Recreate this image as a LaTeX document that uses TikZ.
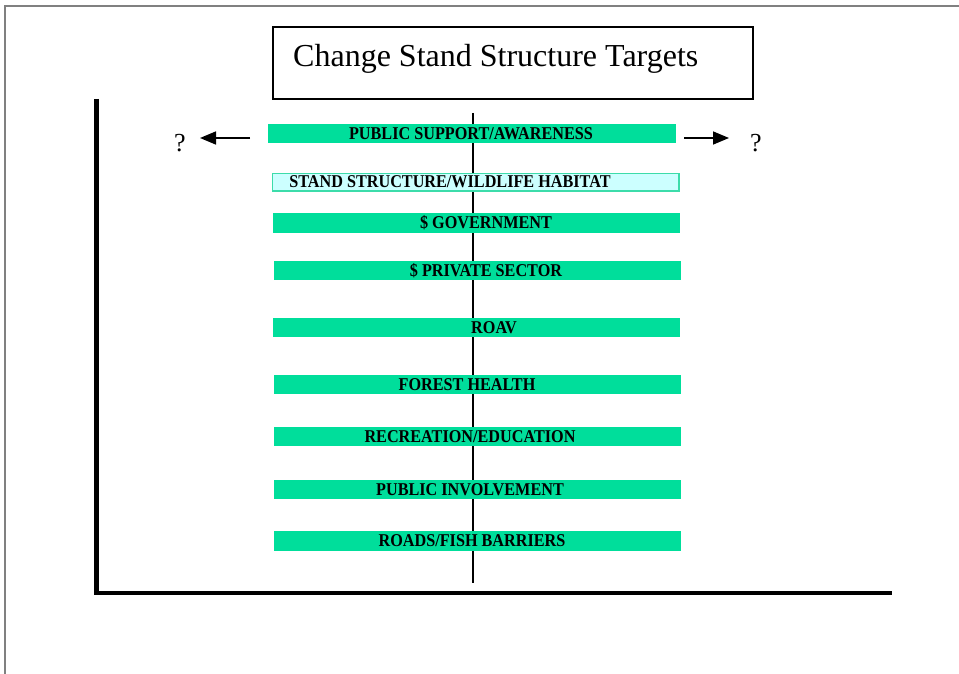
\documentclass[tikz,border=0pt]{standalone}
\usepackage{fontspec}
\setmainfont{Liberation Serif}
\usetikzlibrary{arrows.meta}
\definecolor{bargreen}{RGB}{0,222,155}
\definecolor{barcyan}{RGB}{204,255,255}
\definecolor{barline}{RGB}{60,220,170}
\definecolor{framegray}{RGB}{128,128,128}
\tikzset{
  bar/.style={fill=bargreen, draw=none},
  lightbar/.style={fill=barcyan, draw=barline, line width=1.2pt},
  barlabel/.style={font=\bfseries\fontsize{18}{20}\selectfont, inner sep=0pt, anchor=center, xscale=0.9},
  axis/.style={line width=4.5pt},
  pointer/.style={line width=1.6pt, -{Triangle[length=16pt,width=13pt]}},
  qmark/.style={font=\fontsize{26}{28}\selectfont, inner sep=0pt}
}
\begin{document}
\begin{tikzpicture}[x=1pt,y=-1pt]
  \useasboundingbox (0,0) rectangle (959,674);
  % page frame
  \draw[framegray, line width=1.2pt] (5,674) -- (5,6) -- (959,6);
  % title
  \node[draw, line width=1.5pt, minimum width=480pt, minimum height=72pt, inner sep=0pt]
    (title) at (513,63) {};
  \node[anchor=west, font=\fontsize{32}{36}\selectfont, inner sep=0pt] (titletext) at (293,59)
    {Change Stand Structure Targets};
  % axes
  \coordinate (ytop) at (96.5,99);
  \coordinate (origin) at (96.5,593);
  \coordinate (xend) at (892,593);
  \draw[axis] (ytop) -- (origin) -- (xend);
  % centre line, behind the bars
  \coordinate (ctop) at (473,113);
  \coordinate (cbot) at (473,583);
  \draw[line width=1.8pt] (ctop) -- (cbot);
  % bars
  \fill[bar] (268,124) rectangle (676,143);
  \filldraw[lightbar] (272.5,173.5) rectangle (679,191);
  \fill[bar] (273,213) rectangle (680,233);
  \fill[bar] (274,261) rectangle (681,280);
  \fill[bar] (273,318) rectangle (680,337);
  \fill[bar] (274,375) rectangle (681,394);
  \fill[bar] (274,427) rectangle (681,446);
  \fill[bar] (274,480) rectangle (681,499);
  \fill[bar] (274,531) rectangle (681,551);
  % bar labels
  \node[barlabel] (b1) at (471,133.5) {PUBLIC SUPPORT/AWARENESS};
  \node[barlabel] (b2) at (450,182) {STAND STRUCTURE/WILDLIFE HABITAT};
  \node[barlabel] (b3) at (486,223) {\$ GOVERNMENT};
  \node[barlabel] (b4) at (486,270.5) {\$ PRIVATE SECTOR};
  \node[barlabel] (b5) at (494,327.5) {ROAV};
  \node[barlabel] (b6) at (467,384.5) {FOREST HEALTH};
  \node[barlabel] (b7) at (470,436.5) {RECREATION/EDUCATION};
  \node[barlabel] (b8) at (470,489.5) {PUBLIC INVOLVEMENT};
  \node[barlabel] (b9) at (472,541) {ROADS/FISH BARRIERS};
  % arrows to question marks
  \node[qmark] (qleft) at (180,143) {?};
  \node[qmark] (qright) at (756,143) {?};
  \coordinate (lstart) at (250,138);
  \coordinate (lend) at (200,138);
  \coordinate (rstart) at (684,138);
  \coordinate (rend) at (729,138);
  \draw[pointer] (lstart) -- (lend);
  \draw[pointer] (rstart) -- (rend);
\end{tikzpicture}
\end{document}
